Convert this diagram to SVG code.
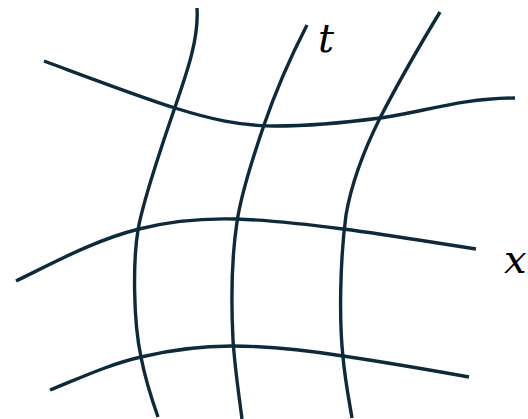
<svg xmlns="http://www.w3.org/2000/svg" width="528" height="419" viewBox="0 0 528 419">
<style>
.c{fill:none;stroke:#0d2a3b;stroke-width:3.4;stroke-linecap:butt}
.l{font-family:"DejaVu Serif",serif;font-style:italic;font-size:40px;fill:#000}
</style>
<rect width="528" height="419" fill="#fff"/>
<g id="connectors">
<path class="c" d="M197,8 C199,40 186,75 174,110 C162,145 143,200 138,230 C133,260 133,320 141,357 C145,378 152,400 158,417"/>
<path class="c" d="M307,25 C290,58 276,90 264,125 C252,160 241,195 237,222 C232,255 231,300 233,340 C235,370 239,395 242,419"/>
<path class="c" d="M440,12 C420,45 397,85 380,118 C365,148 352,180 346,215 C340,260 339,320 343,357 C345,380 349,400 352,418"/>
<path class="c" d="M44,61 C90,78 140,97 175,108 C210,119 240,126 275,126 C310,126 350,122 380,118 C420,113 460,98 515,98"/>
<path class="c" d="M16,281 C55,262 95,240 139,229 C170,221 200,218 236,219 C270,220 305,224 343,229 C390,235 430,242 476,249"/>
<path class="c" d="M50,390 C80,378 110,364 141,357 C170,350 200,346 232,346 C270,346 305,350 343,356 C390,363 430,370 469,377"/>
</g>
<g id="label-t"><text class="l" x="318" y="52">t</text></g>
<g id="label-x"><text class="l" x="504" y="273">x</text></g>
</svg>
